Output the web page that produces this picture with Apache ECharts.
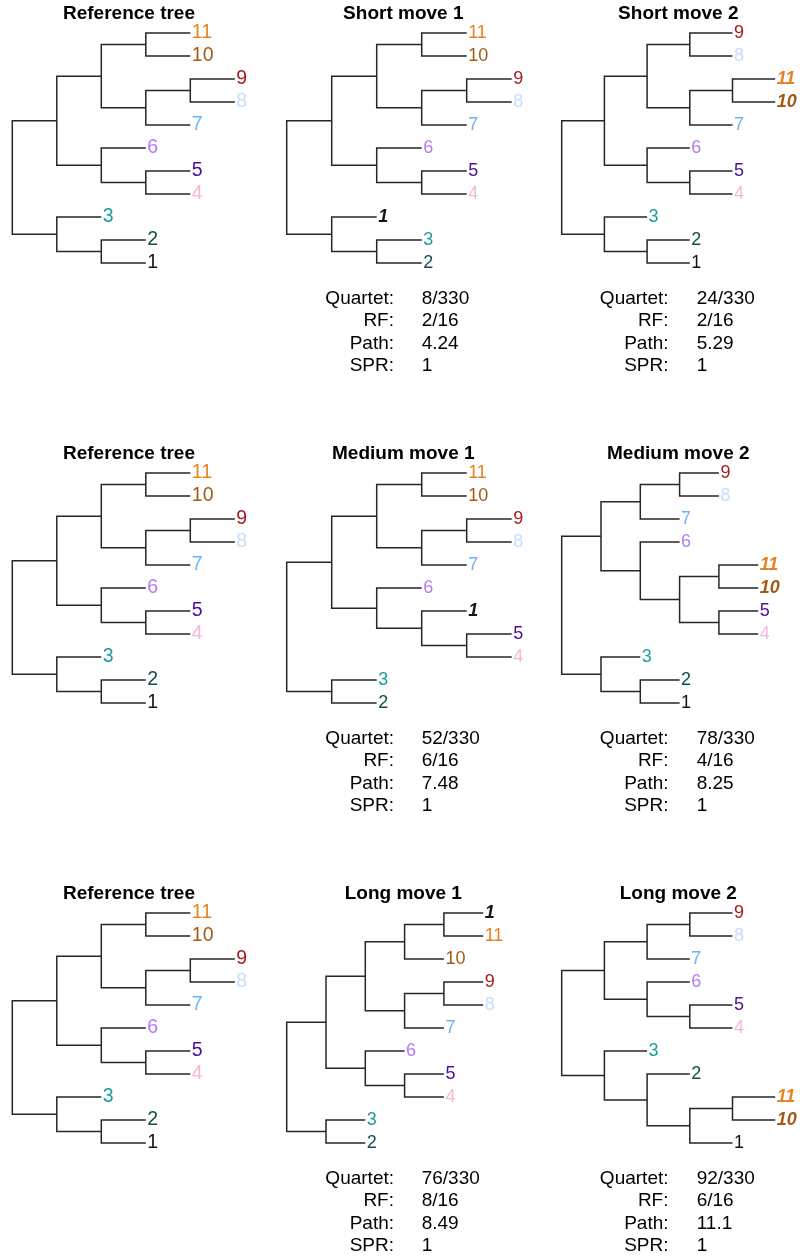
<!DOCTYPE html>
<html>
<head>
<meta charset="utf-8">
<script src="https://cdn.jsdelivr.net/npm/echarts@6/dist/echarts.min.js"></script>
<style>
  html, body { margin: 0; padding: 0; background: #fff; }
  #chart { width: 800px; height: 1258px; }
</style>
</head>
<body>
<div id="chart"></div>
<script>
// ---- Data -----------------------------------------------------------------
// Tip colours, keyed by tip label
const tipColors = {
  1: '#141414', 2: '#0f4f4b', 3: '#1f9e98', 4: '#f6b6d8', 5: '#4c0d9c',
  6: '#b57bf5', 7: '#6bb3f6', 8: '#c4dffc', 9: '#a31b1f', 10: '#a45a16', 11: '#e8811f'
};

// Tree topologies as nested pairs; leaves are tip labels (top to bottom)
const referenceTree = [[[[11, 10], [[9, 8], 7]], [6, [5, 4]]], [3, [2, 1]]];
const shortMove1    = [[[[11, 10], [[9, 8], 7]], [6, [5, 4]]], [1, [3, 2]]];
const shortMove2    = [[[[9, 8], [[11, 10], 7]], [6, [5, 4]]], [3, [2, 1]]];
const mediumMove1   = [[[[11, 10], [[9, 8], 7]], [6, [1, [5, 4]]]], [3, 2]];
const mediumMove2   = [[[[9, 8], 7], [6, [[11, 10], [5, 4]]]], [3, [2, 1]]];
const longMove1     = [[[[[1, 11], 10], [[9, 8], 7]], [6, [5, 4]]], [3, 2]];
const longMove2     = [[[[9, 8], 7], [6, [5, 4]]], [3, [2, [[11, 10], 1]]]];

// Titles and highlighted (moved) tips of the compared trees
const moveTitles = ['Short move 1', 'Short move 2', 'Medium move 1', 'Medium move 2', 'Long move 1', 'Long move 2'];
const moveTrees  = [shortMove1, shortMove2, mediumMove1, mediumMove2, longMove1, longMove2];
const movedTips  = [[1], [11, 10], [1], [11, 10], [1], [11, 10]];

// Distances from the reference tree
const statNames     = ['Quartet:', 'RF:', 'Path:', 'SPR:'];
const quartetValues = ['8/330', '24/330', '52/330', '78/330', '76/330', '92/330'];
const rfValues      = ['2/16', '2/16', '6/16', '4/16', '8/16', '6/16'];
const pathValues    = ['4.24', '5.29', '7.48', '8.25', '8.49', '11.1'];
const sprValues     = ['1', '1', '1', '1', '1', '1'];

// ---- Layout ----------------------------------------------------------------
const FONT = '"Liberation Sans", Arial, Helvetica, sans-serif';
const ROW_H = 440;
const TIP_TOP = 33, TIP_GAP = 23;
const colRootX = [12.3, 286.7, 561.7];
const colTitleX = [129, 403.3, 678.3];
const depthStep = [[44.5, 45, 42.7], [44.5, 45, 39.3], [44.5, 39.3, 42.7]];
const statLabelRight = [null, 394, 668.5];
const statValueLeft = [null, 421.7, 696.7];
const statY = [298.5, 321, 343.5, 366];

// Cladogram layout: unit branch lengths, tips in order, node = mean of children
function layoutTree(tree) {
  const tips = [], elbows = [];
  let next = 0, maxDepth = 0;
  function walk(node, depth) {
    if (!Array.isArray(node)) {
      const y = next++;
      tips.push({ label: node, x: depth, y: y });
      maxDepth = Math.max(maxDepth, depth);
      return { x: depth, y: y };
    }
    const a = walk(node[0], depth + 1);
    const b = walk(node[1], depth + 1);
    elbows.push([depth, a.x, a.y, b.x, b.y]);
    return { x: depth, y: (a.y + b.y) / 2 };
  }
  walk(tree, 0);
  return { tips, elbows, maxDepth };
}

const panels = [];
for (let r = 0; r < 3; r++) {
  panels.push({ row: r, col: 0, title: 'Reference tree', tree: referenceTree, moved: [], stat: -1 });
  for (let k = 0; k < 2; k++) {
    const i = r * 2 + k;
    panels.push({ row: r, col: k + 1, title: moveTitles[i], tree: moveTrees[i], moved: movedTips[i], stat: i });
  }
}

const grids = [], xAxes = [], yAxes = [], series = [], graphics = [];

panels.forEach(function (p, idx) {
  const L = layoutTree(p.tree);
  const top = p.row * ROW_H;
  const step = depthStep[p.row][p.col];
  grids.push({ left: colRootX[p.col], top: top + TIP_TOP, width: step * L.maxDepth, height: TIP_GAP * 10 });
  xAxes.push({ gridIndex: idx, type: 'value', min: 0, max: L.maxDepth, show: false });
  yAxes.push({ gridIndex: idx, type: 'value', min: 0, max: 10, inverse: true, show: false });

  // Branches: one elbow per internal node
  series.push({
    type: 'custom',
    xAxisIndex: idx, yAxisIndex: idx,
    clip: false,
    silent: true,
    data: L.elbows,
    renderItem: function (params, api) {
      const nx = api.value(0);
      const a = api.coord([api.value(1), api.value(2)]);
      const an = api.coord([nx, api.value(2)]);
      const b = api.coord([api.value(3), api.value(4)]);
      const bn = api.coord([nx, api.value(4)]);
      return {
        type: 'polyline',
        shape: { points: [a, an, bn, b] },
        style: { stroke: '#262626', lineWidth: 1.5, fill: null, lineJoin: 'miter' }
      };
    }
  });

  // Tip labels
  const labelSize = p.col === 0 ? 19.5 : 18;
  series.push({
    type: 'scatter',
    xAxisIndex: idx, yAxisIndex: idx,
    symbolSize: 0,
    silent: true,
    itemStyle: { opacity: 1 },
    data: L.tips.map(function (t) {
      const hi = p.moved.indexOf(t.label) >= 0;
      return {
        name: String(t.label),
        value: [t.x, t.y],
        label: {
          color: tipColors[t.label],
          fontWeight: hi ? 'bold' : 'normal',
          fontStyle: hi ? 'italic' : 'normal'
        }
      };
    }),
    label: {
      show: true, position: 'right', distance: 1.5, formatter: '{b}',
      fontSize: labelSize, fontFamily: FONT, opacity: 1
    }
  });

  // Panel title
  graphics.push({
    type: 'text', x: colTitleX[p.col], y: top + 13.5,
    style: { text: p.title, fontSize: 19, fontWeight: 'bold', fontFamily: FONT, fill: '#000', align: 'center', verticalAlign: 'middle' }
  });

  // Distance table
  if (p.stat >= 0) {
    const vals = [quartetValues[p.stat], rfValues[p.stat], pathValues[p.stat], sprValues[p.stat]];
    statNames.forEach(function (nm, j) {
      graphics.push({
        type: 'text', x: statLabelRight[p.col], y: top + statY[j],
        style: { text: nm, fontSize: 19, fontFamily: FONT, fill: '#000', align: 'right', verticalAlign: 'middle' }
      });
      graphics.push({
        type: 'text', x: statValueLeft[p.col], y: top + statY[j],
        style: { text: vals[j], fontSize: 19, fontFamily: FONT, fill: '#000', align: 'left', verticalAlign: 'middle' }
      });
    });
  }
});

const chart = echarts.init(document.getElementById('chart'), null, { renderer: 'canvas' });
chart.setOption({
  animation: false,
  backgroundColor: '#fff',
  grid: grids,
  xAxis: xAxes,
  yAxis: yAxes,
  series: series,
  graphic: graphics
});
</script>
</body>
</html>
